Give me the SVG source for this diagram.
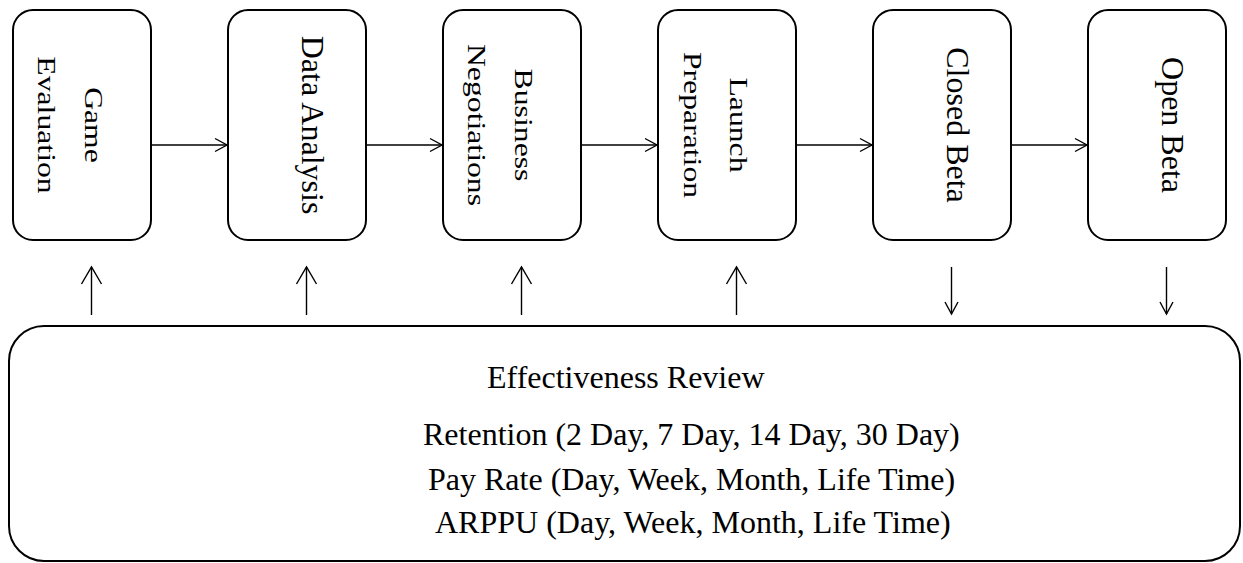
<svg xmlns="http://www.w3.org/2000/svg" width="1243" height="563" viewBox="0 0 1243 563">
  <style>
    .box { fill: #fff; stroke: #000; stroke-width: 2; }
    .lbl { font-family: "Liberation Serif", "Times New Roman", serif; fill: #000; }
    .v1 { font-size: 32px; text-anchor: middle; }
    .v2 { font-size: 26px; text-anchor: middle; }
    .rev { font-size: 32px; }
    .conn { stroke: #000; stroke-width: 1.4; fill: none; }
  </style>
  <defs>
    <marker id="headSmall" markerUnits="userSpaceOnUse" markerWidth="16" markerHeight="16" refX="12" refY="7" orient="auto" overflow="visible">
      <path d="M0,0.5 L12,7 L0,13.5" fill="none" stroke="#000" stroke-width="1.4"/>
    </marker>
    <marker id="headLarge" markerUnits="userSpaceOnUse" markerWidth="22" markerHeight="22" refX="17" refY="10" orient="auto" overflow="visible">
      <path d="M0,0 L17,10 L0,20" fill="none" stroke="#000" stroke-width="1.4"/>
    </marker>
  </defs>

  <!-- pipeline stages -->
  <g id="game-evaluation">
    <rect class="box" x="13" y="10" width="138" height="230" rx="20"/>
    <text class="lbl v2" transform="translate(85,125) rotate(90) scale(1.22,1)">Game</text>
    <text class="lbl v2" transform="translate(38,125) rotate(90) scale(1.22,1)">Evaluation</text>
  </g>
  <g id="data-analysis">
    <rect class="box" x="228" y="10" width="138" height="230" rx="20"/>
    <text class="lbl v1" transform="translate(302,125) rotate(90)">Data Analysis</text>
  </g>
  <g id="business-negotiations">
    <rect class="box" x="443" y="10" width="138" height="230" rx="20"/>
    <text class="lbl v2" transform="translate(515,125) rotate(90) scale(1.22,1)">Business</text>
    <text class="lbl v2" transform="translate(468,125) rotate(90) scale(1.22,1)">Negotiations</text>
  </g>
  <g id="launch-preparation">
    <rect class="box" x="658" y="10" width="138" height="230" rx="20"/>
    <text class="lbl v2" transform="translate(730,125) rotate(90) scale(1.22,1)">Launch</text>
    <text class="lbl v2" transform="translate(684,125) rotate(90) scale(1.22,1)">Preparation</text>
  </g>
  <g id="closed-beta">
    <rect class="box" x="873" y="10" width="138" height="230" rx="20"/>
    <text class="lbl v1" transform="translate(947,125) rotate(90)">Closed Beta</text>
  </g>
  <g id="open-beta">
    <rect class="box" x="1088" y="10" width="138" height="230" rx="20"/>
    <text class="lbl v1" transform="translate(1162,125) rotate(90)">Open Beta</text>
  </g>

  <!-- review panel -->
  <g id="effectiveness-review">
    <rect class="box" x="9" y="326" width="1231" height="235" rx="35"/>
    <text class="lbl rev" x="487" y="388">Effectiveness Review</text>
    <text class="lbl rev" x="423" y="445">Retention (2 Day, 7 Day, 14 Day, 30 Day)</text>
    <text class="lbl rev" x="428" y="490">Pay Rate (Day, Week, Month, Life Time)</text>
    <text class="lbl rev" x="435" y="533">ARPPU (Day, Week, Month, Life Time)</text>
  </g>

  <!-- connectors -->
  <g id="connectors">
    <line class="conn" x1="151" y1="145" x2="227" y2="145" marker-end="url(#headSmall)"/>
    <line class="conn" x1="366" y1="145" x2="442" y2="145" marker-end="url(#headSmall)"/>
    <line class="conn" x1="581" y1="145" x2="657" y2="145" marker-end="url(#headSmall)"/>
    <line class="conn" x1="796" y1="145" x2="872" y2="145" marker-end="url(#headSmall)"/>
    <line class="conn" x1="1011" y1="145" x2="1087" y2="145" marker-end="url(#headSmall)"/>

    <line class="conn" x1="91.5" y1="315" x2="91.5" y2="267" marker-end="url(#headLarge)"/>
    <line class="conn" x1="306.5" y1="315" x2="306.5" y2="267" marker-end="url(#headLarge)"/>
    <line class="conn" x1="521.5" y1="315" x2="521.5" y2="267" marker-end="url(#headLarge)"/>
    <line class="conn" x1="736.5" y1="315" x2="736.5" y2="267" marker-end="url(#headLarge)"/>

    <line class="conn" x1="951.5" y1="267" x2="951.5" y2="314" marker-end="url(#headSmall)"/>
    <line class="conn" x1="1166.5" y1="267" x2="1166.5" y2="314" marker-end="url(#headSmall)"/>
  </g>
</svg>
